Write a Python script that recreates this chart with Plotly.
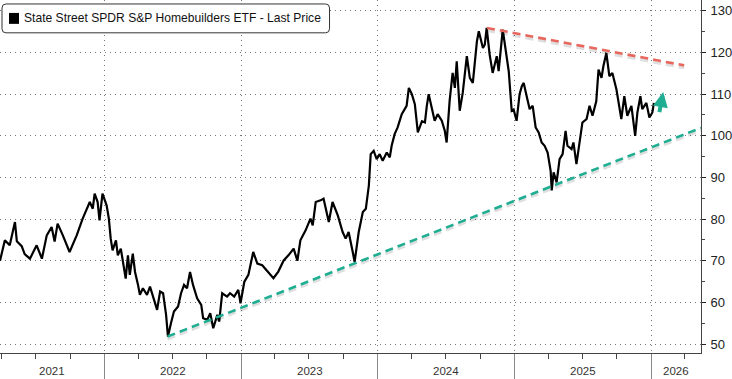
import plotly.graph_objects as go
import pandas as pd

# ---- data ----
dates = [
    "2021-03-27", "2021-04-09", "2021-04-22", "2021-05-06", "2021-05-11", "2021-05-24",
    "2021-06-01", "2021-06-15", "2021-07-03", "2021-07-17", "2021-07-30", "2021-08-12",
    "2021-08-20", "2021-08-28", "2021-09-11", "2021-09-29", "2021-10-18", "2021-11-03",
    "2021-11-22", "2021-11-30", "2021-12-05", "2021-12-13", "2021-12-18", "2021-12-26",
    "2022-01-06", "2022-01-12", "2022-01-17", "2022-01-22", "2022-01-31", "2022-02-05",
    "2022-02-13", "2022-02-18", "2022-02-26", "2022-03-04", "2022-03-09", "2022-03-17",
    "2022-03-23", "2022-03-31", "2022-04-05", "2022-04-13", "2022-04-24", "2022-05-02",
    "2022-05-10", "2022-05-21", "2022-05-29", "2022-06-06", "2022-06-14", "2022-06-19",
    "2022-06-27", "2022-07-05", "2022-07-16", "2022-07-24", "2022-08-01", "2022-08-09",
    "2022-08-17", "2022-08-25", "2022-09-05", "2022-09-16", "2022-09-21", "2022-10-02",
    "2022-10-10", "2022-10-18", "2022-10-29", "2022-11-03", "2022-11-11", "2022-11-24",
    "2022-12-02", "2022-12-13", "2022-12-24", "2022-12-30",
    "2023-01-09", "2023-01-20", "2023-02-02", "2023-02-13", "2023-02-26", "2023-03-12",
    "2023-03-28", "2023-04-10", "2023-04-24", "2023-05-07", "2023-05-21", "2023-05-31",
    "2023-06-08", "2023-06-22", "2023-07-05", "2023-07-11", "2023-07-19", "2023-08-01",
    "2023-08-09", "2023-08-23", "2023-09-02", "2023-09-16", "2023-09-29", "2023-10-07",
    "2023-10-15", "2023-10-26", "2023-10-31", "2023-11-11", "2023-11-22", "2023-11-30",
    "2023-12-08", "2023-12-13", "2023-12-21", "2023-12-29",
    "2024-01-06", "2024-01-14", "2024-01-25", "2024-02-02", "2024-02-07", "2024-02-15",
    "2024-02-23", "2024-03-05", "2024-03-18", "2024-03-24", "2024-04-01", "2024-04-09",
    "2024-04-17", "2024-04-28", "2024-05-06", "2024-05-11", "2024-05-16", "2024-05-24",
    "2024-06-01", "2024-06-09", "2024-06-20", "2024-06-28", "2024-07-03", "2024-07-11",
    "2024-07-19", "2024-07-25", "2024-07-30", "2024-08-07", "2024-08-15", "2024-08-26",
    "2024-09-03", "2024-09-11", "2024-09-22", "2024-09-27", "2024-10-08", "2024-10-13",
    "2024-10-18", "2024-10-26", "2024-11-03", "2024-11-14", "2024-11-19", "2024-11-30",
    "2024-12-08", "2024-12-16", "2024-12-24", "2024-12-29",
    "2025-01-06", "2025-01-14", "2025-01-20", "2025-01-25", "2025-02-02", "2025-02-10",
    "2025-02-18", "2025-02-26", "2025-03-06", "2025-03-14", "2025-03-22", "2025-03-30",
    "2025-04-07", "2025-04-10", "2025-04-15", "2025-04-23", "2025-05-01", "2025-05-09",
    "2025-05-17", "2025-05-22", "2025-06-02", "2025-06-07", "2025-06-15", "2025-06-23",
    "2025-07-01", "2025-07-12", "2025-07-20", "2025-07-28", "2025-08-07", "2025-08-13",
    "2025-08-21", "2025-08-26", "2025-09-03", "2025-09-11", "2025-09-19", "2025-09-30",
    "2025-10-08", "2025-10-13", "2025-10-21", "2025-10-29", "2025-11-09", "2025-11-19",
    "2025-11-25", "2025-12-03", "2025-12-08", "2025-12-19", "2025-12-27",
    "2026-01-04", "2026-01-08",
]
prices = [
    70.0, 74.9, 73.7, 79.3, 74.7, 73.5,
    71.6, 70.5, 73.7, 70.5, 76.1, 78.1,
    74.6, 78.9, 76.1, 72.1, 76.1, 80.1,
    84.1, 82.5, 86.1, 84.1, 79.7, 86.1,
    83.3, 80.1, 75.3, 72.5, 74.9, 71.3,
    72.9, 70.1, 65.7, 71.3, 66.6, 71.7,
    67.3, 64.2, 61.8, 63.4, 61.8, 63.8,
    61.4, 58.2, 62.6, 62.2, 57.0, 51.8,
    55.0, 57.8, 59.0, 62.2, 64.2, 63.4,
    67.3, 64.2, 61.0, 59.4, 56.2, 55.8,
    57.4, 53.8, 57.0, 55.4, 62.2, 61.4,
    62.2, 61.4, 63.0, 59.8,
    64.9, 66.6, 72.1, 69.3, 68.9, 67.4,
    65.8, 67.4, 70.0, 71.3, 72.9, 70.0,
    74.9, 77.3, 80.1, 78.5, 84.1, 84.5,
    84.9, 79.3, 84.1, 80.9, 76.9, 75.3,
    76.9, 72.1, 69.7, 76.9, 81.7, 82.5,
    88.0, 95.6, 96.4, 94.4,
    95.6, 94.0, 96.0, 94.8, 97.6, 100.4,
    102.0, 105.2, 107.2, 111.5, 110.0, 107.6,
    100.8, 103.5, 103.2, 107.2, 110.0, 106.8,
    103.6, 105.2, 103.6, 101.2, 98.4, 108.4,
    115.1, 111.5, 117.9, 106.0, 110.3, 119.1,
    113.9, 112.7, 122.7, 125.1, 121.1, 121.9,
    125.9, 119.5, 115.1, 119.1, 115.5, 125.5,
    120.3, 115.5, 106.0, 106.3,
    103.6, 110.0, 111.9, 112.7, 109.5, 106.4,
    107.2, 102.0, 100.8, 98.4, 97.6, 96.0,
    91.6, 86.9, 91.2, 88.8, 94.4, 95.6,
    101.2, 97.6, 96.8, 98.4, 93.2, 98.4,
    103.2, 104.0, 107.2, 104.8, 108.3, 115.9,
    113.9, 116.7, 119.9, 114.3, 115.1, 111.1,
    107.2, 104.0, 109.5, 104.8, 107.2, 100.0,
    105.6, 109.5, 106.4, 107.9, 104.4,
    105.6, 107.9,
]

support_dates = ["2022-06-18", "2026-05-14"]
support_vals = [51.8, 101.9]
resist_dates = ["2024-10-19", "2026-03-30"]
resist_vals = [125.9, 116.9]
arrow_dates = ["2026-01-22", "2026-02-02"]
arrow_vals = [105.3, 110.5]

year_labels = ["2021", "2022", "2023", "2024", "2025", "2026"]
y_ticks = [50, 60, 70, 80, 90, 100, 110, 120, 130]

x_start, x_end = "2021-03-27", "2026-05-14"
series_name = "State Street SPDR S&P Homebuilders ETF - Last Price"

TEAL = "#1fae92"
RED = "#e8675d"
FONT = "Liberation Sans, Arial, sans-serif"

fig = go.Figure()

# soft shadows under trend lines
for dx, dy in [(support_dates, support_vals), (resist_dates, resist_vals)]:
    fig.add_trace(go.Scatter(x=dx, y=[v - 0.6 for v in dy], mode="lines",
                             line=dict(color="rgba(0,0,0,0.13)", width=3, dash="8px,5px"),
                             hoverinfo="skip", showlegend=False))

fig.add_trace(go.Scatter(x=dates, y=prices, mode="lines",
                         line=dict(color="black", width=2.2), name=series_name,
                         showlegend=False))

fig.add_trace(go.Scatter(x=support_dates, y=support_vals, mode="lines",
                         line=dict(color=TEAL, width=2.6, dash="8px,5px"), showlegend=False))
fig.add_trace(go.Scatter(x=resist_dates, y=resist_vals, mode="lines",
                         line=dict(color=RED, width=2.6, dash="8px,5px"), showlegend=False))

# arrow
fig.add_annotation(x=arrow_dates[1], y=arrow_vals[1], ax=arrow_dates[0], ay=arrow_vals[0],
                   xref="x", yref="y", axref="x", ayref="y", showarrow=True,
                   arrowhead=2, arrowsize=0.75, arrowwidth=4, arrowcolor=TEAL, text="")

# year labels centred in the visible part of each year
xs = pd.Timestamp(x_start)
xe = pd.Timestamp(x_end)
for lab in year_labels:
    a = max(pd.Timestamp(f"{lab}-01-01"), xs)
    b = min(pd.Timestamp(f"{int(lab) + 1}-01-01"), xe)
    mid = a + (b - a) / 2
    fig.add_annotation(x=mid, y=0, xref="x", yref="paper", yanchor="top",
                       yshift=-10, text=lab, showarrow=False,
                       font=dict(family=FONT, size=11.5, color="#333"))

year_starts = [f"{y}-01-01" for y in range(2022, 2027)]

fig.update_layout(
    width=732, height=379,
    margin=dict(l=0, r=30, t=0, b=24),
    plot_bgcolor="white", paper_bgcolor="white",
    showlegend=False,
    xaxis=dict(
        type="date", range=[x_start, x_end],
        tickvals=year_starts, showticklabels=False,
        ticks="outside", ticklen=26, tickcolor="#888", tickwidth=1,
        showgrid=True, gridcolor="#777", griddash="1px,4px", gridwidth=1,
        showline=True, linecolor="#444", linewidth=1,
        minor=dict(dtick="M3", tick0="2021-01-01", ticks="outside", ticklen=5,
                   tickcolor="#444", showgrid=False),
        zeroline=False,
    ),
    yaxis=dict(
        side="right", range=[47.85, 132.6],
        tickvals=y_ticks, ticks="outside", ticklen=4, tickcolor="#222",
        ticklabelstandoff=2,
        showgrid=True, gridcolor="#777", griddash="1px,4px", gridwidth=1,
        showline=True, linecolor="#444", linewidth=1,
        minor=dict(dtick=5, ticks="outside", ticklen=3, tickcolor="#444", showgrid=False),
        tickfont=dict(family=FONT, size=13, color="#222"),
        zeroline=False,
    ),
)

# legend box (rounded) with black square and text
W, H = 702, 355
def px(xp):
    return xp / W
def py(yp):
    return 1 - yp / H
x0, x1, y0, y1, r = 2, 330, 4, 33, 4
path = (f"M {px(x0 + r)},{py(y0)} L {px(x1 - r)},{py(y0)} "
        f"Q {px(x1)},{py(y0)} {px(x1)},{py(y0 + r)} L {px(x1)},{py(y1 - r)} "
        f"Q {px(x1)},{py(y1)} {px(x1 - r)},{py(y1)} L {px(x0 + r)},{py(y1)} "
        f"Q {px(x0)},{py(y1)} {px(x0)},{py(y1 - r)} L {px(x0)},{py(y0 + r)} "
        f"Q {px(x0)},{py(y0)} {px(x0 + r)},{py(y0)} Z")
fig.add_shape(type="path", path=path, xref="paper", yref="paper",
              line=dict(color="#333", width=1), fillcolor="white", layer="above")
fig.add_shape(type="rect", xref="paper", yref="paper",
              x0=px(9), x1=px(19), y0=py(24), y1=py(13),
              line=dict(width=0), fillcolor="black", layer="above")
fig.add_annotation(x=px(22), y=py(18.5), xref="paper", yref="paper",
                   xanchor="left", yanchor="middle", showarrow=False,
                   text=series_name, font=dict(family=FONT, size=12.1, color="#111"))

fig.write_html("out.html",
               config={"displayModeBar": False},
               post_script="document.body.style.margin='0';document.body.style.overflow='hidden';")
